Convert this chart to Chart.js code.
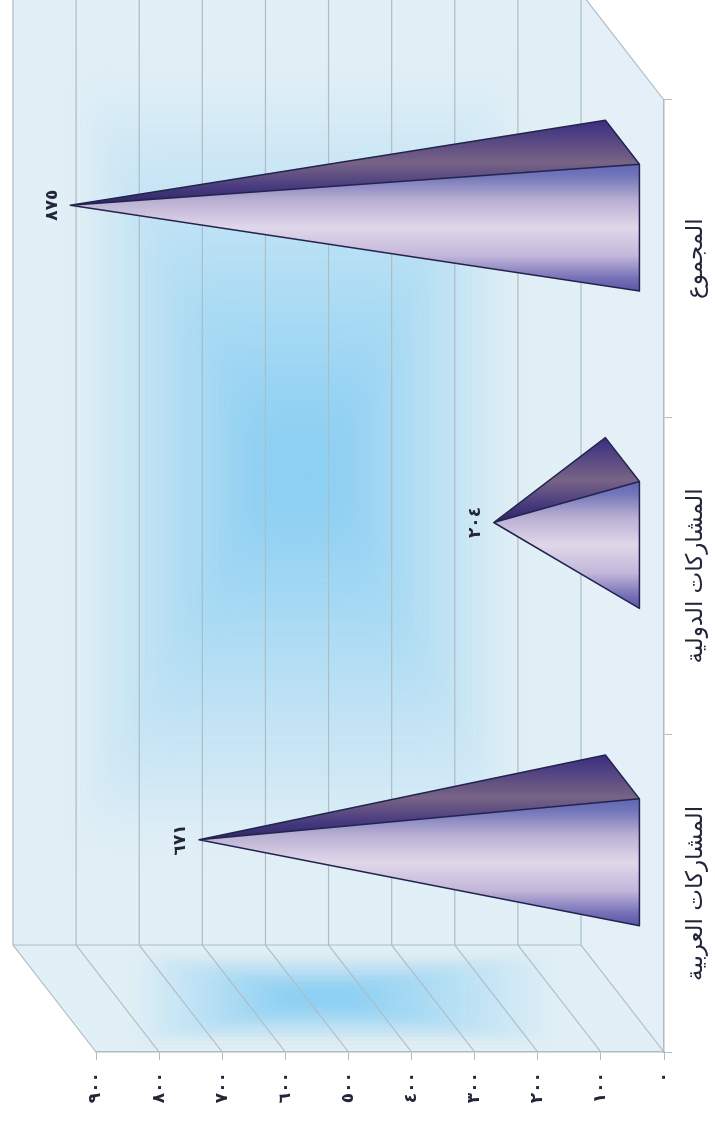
<!DOCTYPE html>
<html lang="ar">
<head>
<meta charset="utf-8">
<style>
html, body { margin: 0; padding: 0; background: #fff; }
canvas { display: block; filter: blur(0.5px); }
</style>
<script src="https://cdn.jsdelivr.net/npm/chart.js@4"></script>
</head>
<body>
<canvas id="pyramids" width="715" height="1132"></canvas>
<script>
var categories = ["المشاركات العربية", "المشاركات الدولية", "المجموع"];
var values = [671, 204, 875];
var valueLabels = ["٦٧١", "٢٠٤", "٨٧٥"];
var tickValues = [0, 100, 200, 300, 400, 500, 600, 700, 800, 900];
var tickLabels = ["٠", "١٠٠", "٢٠٠", "٣٠٠", "٤٠٠", "٥٠٠", "٦٠٠", "٧٠٠", "٨٠٠", "٩٠٠"];

// how far the back wall sits from the front plane
var depthX = -83;
var depthY = -107;
var lineColor = "#aebcc4";
var wallRgb = [225, 239, 246];
var blueRgb = [140, 208, 243];
var stripColor = "#e4eff7";

function blob(ctx, x0, y0, x1, y1, cx0, cy0, cx1, cy1, soft) {
    // nested boxes, outside to inside, softened by a blur
    ctx.save();
    ctx.filter = "blur(" + soft + "px)";
    var steps = 30;
    for (var i = 0; i < steps; i++) {
        var t = i / (steps - 1);
        var r = wallRgb[0] + (blueRgb[0] - wallRgb[0]) * t;
        var g = wallRgb[1] + (blueRgb[1] - wallRgb[1]) * t;
        var b = wallRgb[2] + (blueRgb[2] - wallRgb[2]) * t;
        ctx.fillStyle = "rgb(" + Math.round(r) + "," + Math.round(g) + "," + Math.round(b) + ")";
        ctx.fillRect(x0 + (cx0 - x0) * t, y0 + (cy0 - y0) * t,
            (x1 - x0) + ((cx1 - cx0) - (x1 - x0)) * t, (y1 - y0) + ((cy1 - cy0) - (y1 - y0)) * t);
    }
    ctx.restore();
}

var wallsPlugin = {
    id: "walls",
    beforeDraw: function(chart) {
        var ctx = chart.ctx;
        var xs = chart.scales.x;
        var area = chart.chartArea;
        var zero = xs.getPixelForValue(0);
        var far = xs.getPixelForValue(900);
        var wall = "rgb(" + wallRgb.join(",") + ")";
        ctx.save();

        // strip under the pyramids
        ctx.fillStyle = stripColor;
        ctx.beginPath();
        ctx.moveTo(zero + depthX, area.top + depthY);
        ctx.lineTo(zero, area.top);
        ctx.lineTo(zero, area.bottom);
        ctx.lineTo(zero + depthX, area.bottom + depthY);
        ctx.closePath();
        ctx.fill();

        // back wall
        ctx.save();
        ctx.beginPath();
        ctx.rect(far + depthX, area.top + depthY, zero - far, area.bottom - area.top);
        ctx.clip();
        ctx.fillStyle = wall;
        ctx.fillRect(far + depthX, area.top + depthY, zero - far, area.bottom - area.top);
        blob(ctx, 80, 70, 510, 850, 270, 440, 330, 500, 12);
        ctx.restore();

        // side wall
        ctx.save();
        ctx.beginPath();
        ctx.moveTo(far + depthX, area.bottom + depthY);
        ctx.lineTo(zero + depthX, area.bottom + depthY);
        ctx.lineTo(zero, area.bottom);
        ctx.lineTo(far, area.bottom);
        ctx.closePath();
        ctx.clip();
        ctx.fillStyle = wall;
        ctx.fillRect(0, area.bottom + depthY, 715, -depthY);
        blob(ctx, 130, 958, 560, 1040, 290, 994, 350, 1001, 5);
        ctx.restore();

        // grid lines, on the wall and down the side
        ctx.strokeStyle = lineColor;
        ctx.lineWidth = 1.2;
        tickValues.forEach(function(v) {
            var px = xs.getPixelForValue(v);
            ctx.beginPath();
            ctx.moveTo(px + depthX, area.top + depthY);
            ctx.lineTo(px + depthX, area.bottom + depthY);
            ctx.lineTo(px, area.bottom);
            ctx.stroke();
        });
        ctx.beginPath();
        ctx.moveTo(far + depthX, area.bottom + depthY);
        ctx.lineTo(zero + depthX, area.bottom + depthY);
        ctx.moveTo(zero + depthX, area.top + depthY);
        ctx.lineTo(zero, area.top);
        ctx.stroke();
        ctx.restore();
    }
};

var pyramidPlugin = {
    id: "pyramid",
    afterDatasetsDraw: function(chart) {
        var ctx = chart.ctx;
        var bars = chart.getDatasetMeta(0).data;
        bars.forEach(function(bar, i) {
            var half = bar.height / 2;
            var fx = bar.base + depthX * 0.29;
            var fy = bar.y + depthY * 0.29;
            var bx = bar.base + depthX * 0.7;
            var by = bar.y + depthY * 0.7;
            var ax = bar.x + depthX * 0.5;
            var ay = bar.y + depthY * 0.5;

            var sideGrad = ctx.createLinearGradient(0, by - half, 0, ay);
            sideGrad.addColorStop(0, "#3a2d80");
            sideGrad.addColorStop(0.5, "#786485");
            sideGrad.addColorStop(0.8, "#46397f");
            sideGrad.addColorStop(1, "#2c2560");
            ctx.fillStyle = sideGrad;
            ctx.beginPath();
            ctx.moveTo(fx, fy - half);
            ctx.lineTo(bx, by - half);
            ctx.lineTo(ax, ay);
            ctx.closePath();
            ctx.fill();

            var frontGrad = ctx.createLinearGradient(0, fy - half, 0, fy + half);
            frontGrad.addColorStop(0, "#5f66b4");
            frontGrad.addColorStop(0.1, "#7477ba");
            frontGrad.addColorStop(0.28, "#b8aed2");
            frontGrad.addColorStop(0.5, "#e1d7ea");
            frontGrad.addColorStop(0.72, "#c3b7da");
            frontGrad.addColorStop(0.9, "#7670b8");
            frontGrad.addColorStop(1, "#5a55a6");
            ctx.fillStyle = frontGrad;
            ctx.beginPath();
            ctx.moveTo(fx, fy - half);
            ctx.lineTo(fx, fy + half);
            ctx.lineTo(ax, ay);
            ctx.closePath();
            ctx.fill();

            ctx.strokeStyle = "#23244e";
            ctx.lineWidth = 1.5;
            ctx.lineJoin = "round";
            ctx.beginPath();
            ctx.moveTo(ax, ay);
            ctx.lineTo(fx, fy + half);
            ctx.lineTo(fx, fy - half);
            ctx.lineTo(ax, ay);
            ctx.lineTo(bx, by - half);
            ctx.lineTo(fx, fy - half);
            ctx.stroke();

            // value next to the tip, turned like the rest of the text
            ctx.save();
            ctx.translate(ax - 18, ay);
            ctx.rotate(-Math.PI / 2);
            ctx.font = "bold 17px 'DejaVu Sans'";
            ctx.fillStyle = "#22263a";
            ctx.textAlign = "center";
            ctx.textBaseline = "middle";
            ctx.fillText(valueLabels[i], 0, 0);
            ctx.restore();
        });
    }
};

var chart = new Chart(document.getElementById("pyramids").getContext("2d"), {
    type: "bar",
    plugins: [wallsPlugin, pyramidPlugin],
    data: {
        labels: categories,
        datasets: [{
            data: values,
            backgroundColor: "rgba(0,0,0,0)",
            borderWidth: 0,
            barPercentage: 0.4,
            categoryPercentage: 1
        }]
    },
    options: {
        indexAxis: "y",
        responsive: false,
        animation: false,
        layout: { padding: { left: 96, top: 100, right: 0, bottom: 0 } },
        plugins: { legend: { display: false }, tooltip: { enabled: false } },
        scales: {
            x: {
                reverse: true,
                min: 0,
                max: 900,
                afterFit: function(scale) { scale.height = 80; },
                afterBuildTicks: function(scale) {
                    scale.ticks = tickValues.map(function(v) { return { value: v }; });
                },
                border: { color: lineColor, width: 1.5 },
                grid: { drawOnChartArea: false, color: lineColor, tickLength: 8 },
                ticks: {
                    autoSkip: false,
                    minRotation: 90,
                    maxRotation: 90,
                    padding: 12,
                    color: "#22263a",
                    font: { family: "'DejaVu Sans'", size: 17, weight: "bold" },
                    callback: function(v, i) { return tickLabels[i]; }
                }
            },
            y: {
                position: "right",
                reverse: true,
                afterFit: function(scale) { scale.width = 51; },
                border: { color: lineColor, width: 1.5 },
                grid: { drawOnChartArea: false, color: lineColor, tickLength: 8 },
                ticks: {
                    autoSkip: false,
                    minRotation: 90,
                    maxRotation: 90,
                    crossAlign: "center",
                    padding: -64,
                    color: "#22263a",
                    font: { family: "'DejaVu Sans'", size: 23 }
                }
            }
        }
    }
});
</script>
</body>
</html>
